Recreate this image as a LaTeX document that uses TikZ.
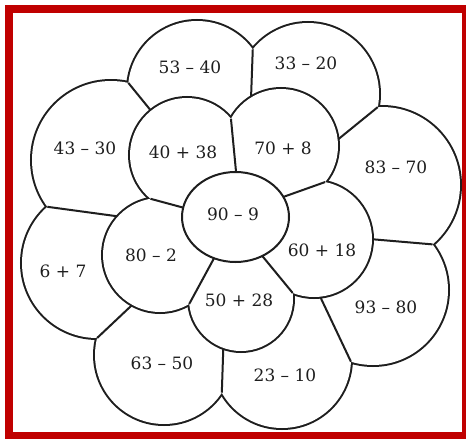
\documentclass[tikz,border=0pt]{standalone}
\usepackage{tikz}
\usepackage{fontspec}
\usetikzlibrary{intersections}

\newfontfamily\sumfont{DejaVu Serif}
\definecolor{framered}{RGB}{192,0,0}
\definecolor{ink}{RGB}{30,30,30}

% petals as x/y/radius/name (1 unit = 1px, y downwards)
\newcommand{\outerring}{197/90/69/pa, 308/94/71/pb, 382/185/78/pc, 373/290/75/pd, 282/359/69/pe, 164/355/69/pf, 97/263/75/pg, 111/160/79/ph}
\newcommand{\innerring}{187/155/57/qa, 281/146/57/qb, 314/239/58/qc, 241/299/52/qd, 160/255/57/qe}

\begin{document}
\begin{tikzpicture}[x=1pt, y=-1pt,
  rim/.style={draw=ink, line width=4pt},
  seam/.style={draw=ink, line width=2pt},
  sum/.style={font=\sumfont\fontsize{17}{20}\selectfont, text=ink, inner sep=0pt}]
\useasboundingbox (0,0) rectangle (466,439);

% Outer petals: thick rims, then white discs leave only the outline
\foreach \x/\y/\r/\n in \outerring
  \draw[rim, name path global=\n] (\x,\y) circle (\r);
\foreach \x/\y/\r/\n in \outerring
  \fill[white] (\x,\y) circle (\r);

% straight seams between neighbouring outer petals
\draw[seam, name intersections={of=pa and pb}] (intersection-1) -- (intersection-2);
\draw[seam, name intersections={of=pb and pc}] (intersection-1) -- (intersection-2);
\draw[seam, name intersections={of=pc and pd}] (intersection-1) -- (intersection-2);
\draw[seam, name intersections={of=pe and pd}] (intersection-1) -- (317,290);
\draw[seam, name intersections={of=pe and pf}] (intersection-1) -- (intersection-2);
\draw[seam, name intersections={of=pf and pg}] (intersection-1) -- (148,290);
\draw[seam, name intersections={of=pg and ph}] (intersection-1) -- (intersection-2);
\draw[seam, name intersections={of=ph and pa}] (intersection-1) -- (intersection-2);

% Inner ring, same trick
\foreach \x/\y/\r/\n in \innerring
  \draw[rim, name path global=\n] (\x,\y) circle (\r);
\foreach \x/\y/\r/\n in \innerring
  \fill[white] (\x,\y) circle (\r);

\draw[seam, name intersections={of=qa and qb}] (intersection-1) -- (intersection-2);
\draw[seam, name intersections={of=qb and qc}] (intersection-1) -- (intersection-2);
\draw[seam, name intersections={of=qc and qd}] (intersection-1) -- (intersection-2);
\draw[seam, name intersections={of=qd and qe}] (intersection-1) -- (intersection-2);
\draw[seam, name intersections={of=qe and qa}] (intersection-1) -- (intersection-2);

% centre
\draw[seam, fill=white] (235.5,217) ellipse (53.5 and 45);

% sums
\foreach \x/\y/\t/\n in {190/67/53 – 40/s1, 306/63/33 – 20/s2, 85/148/43 – 30/s3,
    183/152/40 + 38/s4, 283/148/70 + 8/s5, 396/167/83 – 70/s6, 233/214/90 – 9/s7,
    63/271/6 + 7/s8, 151/255/80 – 2/s9, 322/250/60 + 18/s10, 239/300/50 + 28/s11,
    386/307/93 – 80/s12, 162/363/63 – 50/s13, 285/375/23 – 10/s14}
  \node[sum] (\n) at (\x,\y) {\t};

% frame
\draw[framered, line width=8.3pt] (9.15,9.15) rectangle (465.85,436.15);
\end{tikzpicture}
\end{document}
